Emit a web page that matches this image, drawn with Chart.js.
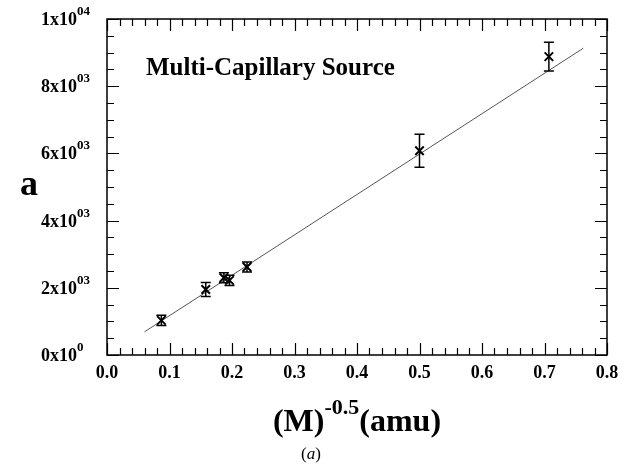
<!DOCTYPE html>
<html>
<head>
<meta charset="utf-8">
<script src="https://cdn.jsdelivr.net/npm/chart.js@4"></script>
<style>
  body { margin: 0; background: #fff; }
  #wrap { width: 639px; height: 471px; }
</style>
</head>
<body>
<div id="wrap"><canvas id="myChart" width="639" height="471"></canvas></div>
<script>
'use strict';

// measured points: x = M^-0.5, a with its error
const invSqrtM = [0.087, 0.158, 0.187, 0.196, 0.224, 0.500, 0.707];
const aValues = [1030, 1950, 2300, 2220, 2620, 6080, 8880];
const aErrors = [150, 210, 150, 150, 150, 490, 430];

// straight-line fit, two end points
const fitX = [0.06, 0.762];
const fitA = [690, 9130];

// axis labels
const yTickValues = [0, 2000, 4000, 6000, 8000, 10000];
const yTickMantissa = ['0x10', '2x10', '4x10', '6x10', '8x10', '1x10'];
const yTickExponent = ['0', '03', '03', '03', '03', '04'];

const SERIF = '"Liberation Serif", "Times New Roman", serif';

const decor = {
    id: 'decor',
    afterDatasetsDraw(chart) {
        const ctx = chart.ctx;
        const xs = chart.scales.x;
        const ys = chart.scales.y;
        ctx.save();
        ctx.strokeStyle = '#000';
        ctx.lineWidth = 1.5;
        invSqrtM.forEach((x, i) => {
            const px = xs.getPixelForValue(x);
            const top = ys.getPixelForValue(aValues[i] + aErrors[i]);
            const bot = ys.getPixelForValue(aValues[i] - aErrors[i]);
            ctx.beginPath();
            ctx.moveTo(px, top); ctx.lineTo(px, bot);
            ctx.moveTo(px - 5, top); ctx.lineTo(px + 5, top);
            ctx.moveTo(px - 5, bot); ctx.lineTo(px + 5, bot);
            ctx.stroke();
        });
        ctx.restore();
    },
    afterDraw(chart) {
        const ctx = chart.ctx;
        const area = chart.chartArea;
        const xs = chart.scales.x;
        const ys = chart.scales.y;
        ctx.save();
        ctx.strokeStyle = '#000';
        ctx.fillStyle = '#000';

        // frame
        ctx.lineWidth = 1.5;
        ctx.strokeRect(area.left, area.top, area.right - area.left, area.bottom - area.top);

        // inward ticks on all four sides
        ctx.lineWidth = 1.2;
        ctx.beginPath();
        for (let k = 0; k <= 40; k++) {
            const v = k * 0.02;
            const px = Math.round(xs.getPixelForValue(v)) + 0.5;
            const len = k % 5 === 0 ? 12 : 7;
            ctx.moveTo(px, area.bottom); ctx.lineTo(px, area.bottom - len);
            ctx.moveTo(px, area.top); ctx.lineTo(px, area.top + len);
        }
        for (let v = 0; v <= 10000; v += 500) {
            const py = Math.round(ys.getPixelForValue(v)) + 0.5;
            const len = v % 2000 === 0 ? 12 : 7;
            ctx.moveTo(area.left, py); ctx.lineTo(area.left + len, py);
            ctx.moveTo(area.right, py); ctx.lineTo(area.right - len, py);
        }
        ctx.stroke();

        // y tick labels with exponents
        ctx.textBaseline = 'alphabetic';
        ctx.textAlign = 'left';
        yTickValues.forEach((v, i) => {
            const py = ys.getPixelForValue(v);
            ctx.font = 'bold 18px ' + SERIF;
            const w = ctx.measureText(yTickMantissa[i]).width;
            const x0 = 41;
            ctx.fillText(yTickMantissa[i], x0, py + 6);
            ctx.font = 'bold 13px ' + SERIF;
            ctx.fillText(yTickExponent[i], x0 + w, py - 4);
        });

        // y title
        ctx.font = 'bold 36px ' + SERIF;
        ctx.textAlign = 'center';
        ctx.textBaseline = 'middle';
        ctx.fillText('a', 29, 186);

        // x title (M)^-0.5(amu)
        ctx.textBaseline = 'alphabetic';
        ctx.textAlign = 'left';
        const big = 'bold 32px ' + SERIF;
        const small = 'bold 22px ' + SERIF;
        ctx.font = big;
        const w1 = ctx.measureText('(M)').width;
        const w3 = ctx.measureText('(amu)').width;
        ctx.font = small;
        const w2 = ctx.measureText('-0.5').width;
        const cx = (area.left + area.right) / 2;
        let x = cx - (w1 + w2 + w3) / 2;
        const base = 431;
        ctx.font = big;
        ctx.fillText('(M)', x, base);
        x += w1;
        ctx.font = small;
        ctx.fillText('-0.5', x, base - 17);
        x += w2;
        ctx.font = big;
        ctx.fillText('(amu)', x, base);

        // panel caption (a)
        ctx.font = '17px ' + SERIF;
        const pw = ctx.measureText('(').width;
        ctx.font = 'italic 17px ' + SERIF;
        const aw = ctx.measureText('a').width;
        let px = 311 - (2 * pw + aw) / 2;
        ctx.font = '17px ' + SERIF;
        ctx.fillText('(', px, 459);
        ctx.font = 'italic 17px ' + SERIF;
        ctx.fillText('a', px + pw, 459);
        ctx.font = '17px ' + SERIF;
        ctx.fillText(')', px + pw + aw, 459);

        // inset label
        ctx.font = 'bold 25px ' + SERIF;
        ctx.fillText('Multi-Capillary Source', area.left + 39, 75);
        ctx.restore();
    }
};

const ctx = document.getElementById('myChart').getContext('2d');

new Chart(ctx, {
    type: 'scatter',
    data: {
        datasets: [
            {
                label: 'a',
                data: invSqrtM.map((x, i) => ({ x: x, y: aValues[i] })),
                pointStyle: 'crossRot',
                pointRadius: 6,
                borderColor: '#000',
                backgroundColor: '#000',
                borderWidth: 2
            },
            {
                label: 'fit',
                type: 'line',
                data: fitX.map((x, i) => ({ x: x, y: fitA[i] })),
                borderColor: '#555',
                borderWidth: 1,
                pointRadius: 0,
                fill: false
            }
        ]
    },
    options: {
        responsive: false,
        animation: false,
        layout: { padding: { top: 19, right: 32, left: 0, bottom: 0 } },
        plugins: {
            legend: { display: false },
            tooltip: { enabled: false }
        },
        scales: {
            x: {
                type: 'linear',
                min: 0,
                max: 0.8,
                ticks: {
                    stepSize: 0.1,
                    padding: 8,
                    color: '#000',
                    font: { family: SERIF, weight: 'bold', size: 18 },
                    callback: v => v.toFixed(1),
                    maxRotation: 0
                },
                grid: { display: false, drawTicks: false },
                border: { display: false },
                afterFit: s => { s.height = 116; }
            },
            y: {
                min: 0,
                max: 10000,
                ticks: { display: false, stepSize: 500 },
                grid: { display: false, drawTicks: false },
                border: { display: false },
                afterFit: s => { s.width = 107; }
            }
        }
    },
    plugins: [decor]
});
</script>
</body>
</html>
